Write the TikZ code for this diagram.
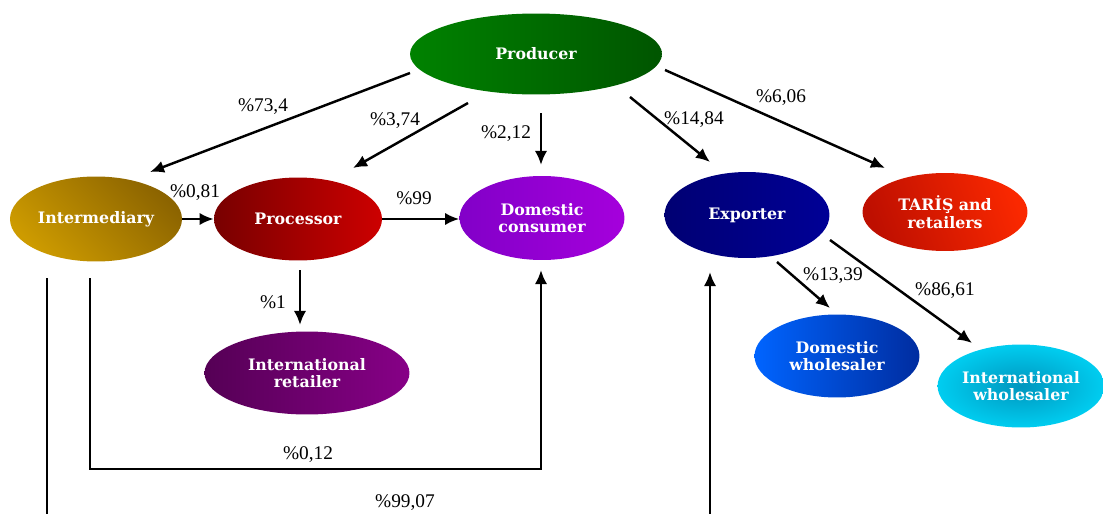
\documentclass[tikz,border=0pt]{standalone}
\usepackage{fontspec}
\setmainfont{Liberation Serif}
\newfontfamily\actorfont{DejaVu Serif}
\usetikzlibrary{arrows.meta,shapes.geometric,calc}

\definecolor{prodA}{RGB}{0,130,0}
\definecolor{prodB}{RGB}{0,85,0}
\definecolor{interA}{RGB}{205,155,0}
\definecolor{interB}{RGB}{140,100,0}
\definecolor{procA}{RGB}{120,0,0}
\definecolor{procB}{RGB}{205,0,0}
\definecolor{consA}{RGB}{130,0,200}
\definecolor{consB}{RGB}{165,0,220}
\definecolor{expA}{RGB}{0,0,115}
\definecolor{expB}{RGB}{0,0,150}
\definecolor{tarisA}{RGB}{190,15,0}
\definecolor{tarisB}{RGB}{250,40,0}
\definecolor{dwholeA}{RGB}{0,100,255}
\definecolor{dwholeB}{RGB}{0,45,160}
\definecolor{iwholeA}{RGB}{0,150,190}
\definecolor{iwholeB}{RGB}{0,205,240}
\definecolor{iretA}{RGB}{85,0,85}
\definecolor{iretB}{RGB}{135,0,135}

\begin{document}
\begin{tikzpicture}[x=0.02cm,y=-0.02cm,
    actor/.style 2 args={ellipse,draw=none,inner sep=0pt,minimum width=#1,minimum height=#2,
      text=white,align=center,font=\actorfont\bfseries\fontsize{9}{10}\selectfont},
    flow/.style={line width=1.4pt,-{Latex[length=8pt,width=7pt]}},
    rate/.style={font=\fontsize{11}{13}\selectfont}]
    \useasboundingbox (0,0) rectangle (1103,514);
    \clip (0,0) rectangle (1103,514);

    \node[actor={5.04cm}{1.62cm},left color=prodA,right color=prodB] (prod) at (536,54) {Producer};
    \node[actor={3.44cm}{1.7cm},left color=interA,right color=interB,shading angle=135] (inter) at (96,219) {Intermediary};
    \node[actor={3.36cm}{1.66cm},left color=procA,right color=procB] (proc) at (298,219) {Processor};
    \node[actor={3.3cm}{1.68cm},left color=consA,right color=consB] (cons) at (542,218) {Domestic\\consumer};
    \node[actor={3.3cm}{1.72cm},left color=expA,right color=expB] (exp) at (747,215) {Exporter};
    \node[actor={3.3cm}{1.56cm},left color=tarisA,right color=tarisB,shading angle=110] (taris) at (945,212) {TARİŞ and\\retailers};
    \node[actor={4.1cm}{1.66cm},left color=iretA,right color=iretB] (iret) at (307,373) {International\\retailer};
    \node[actor={3.3cm}{1.66cm},left color=dwholeA,right color=dwholeB] (dwhole) at (837,356) {Domestic\\wholesaler};
    \node[actor={3.28cm}{1.66cm},inner color=iwholeA,outer color=iwholeB] (iwhole) at (1021,386) {International\\wholesaler};

    \coordinate (low) at (316,469);
    \coordinate (bottom) at (380,540);

    \draw[flow] ($(prod)+(-126,19)$) -- ($(inter)+(54,-47)$);
    \draw[flow] ($(prod)+(-68,49)$) -- ($(proc)+(55,-51)$);
    \draw[flow] ($(prod)+(5,59)$) -- ($(cons)+(-1,-53)$);
    \draw[flow] ($(prod)+(94,43)$) -- ($(exp)+(-37,-53)$);
    \draw[flow] ($(prod)+(129,16)$) -- ($(taris)+(-60,-44)$);
    \draw[flow] (inter.east) -- (proc.west);
    \draw[flow] (proc.east) -- (proc.east -| cons.west);
    \draw[flow] ($(proc)+(2,51)$) -- ($(iret)+(-7,-48)$);
    \draw[flow] ($(exp)+(30,47)$) -- ($(dwhole)+(-7,-48)$);
    \draw[flow] ($(exp)+(83,25)$) -- ($(iwhole)+(-49,-43)$);
    \draw[flow] ($(inter)+(-6,59)$) |- (low) -| ($(cons)+(-1,52)$);
    \draw[flow] ($(inter)+(-49,59)$) |- (bottom) -| ($(exp)+(-37,57)$);

    \node[rate] (r734) at (263,107) {\%73,4};
    \node[rate] (r374) at (395,121) {\%3,74};
    \node[rate] (r212) at (506,134) {\%2,12};
    \node[rate] (r1484) at (694,120) {\%14,84};
    \node[rate] (r606) at (781,98) {\%6,06};
    \node[rate] (r081) at (195,193) {\%0,81};
    \node[rate] (r99) at (414,198) {\%99};
    \node[rate] (r1) at (273,302) {\%1};
    \node[rate] (r1339) at (833,276) {\%13,39};
    \node[rate] (r8661) at (945,291) {\%86,61};
    \node[rate] (r012) at (308,455) {\%0,12};
    \node[rate] (r9907) at (405,503) {\%99,07};
\end{tikzpicture}
\end{document}
